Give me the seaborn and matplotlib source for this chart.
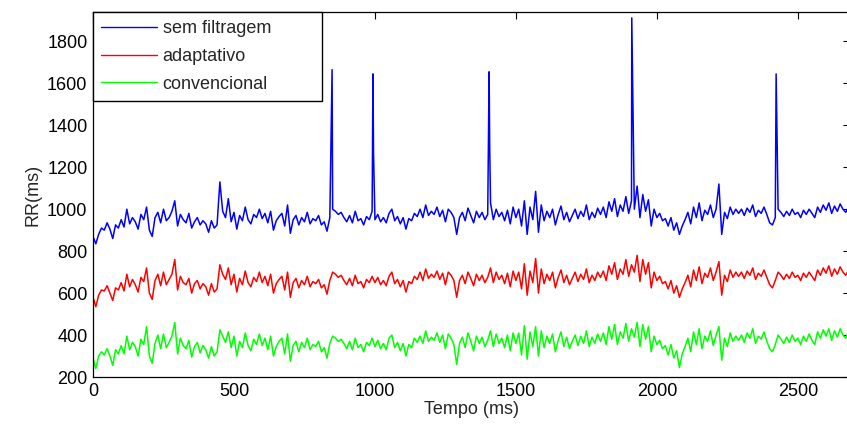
import numpy as np
import pandas as pd
import matplotlib
matplotlib.use("Agg")
import matplotlib.pyplot as plt
import seaborn as sns

# RR series, one value every 10 ms (0 .. 2680)
sem_filtragem = [
    870, 835, 880, 910, 900, 935, 905, 860, 925, 910,
    950, 915, 1000, 930, 960, 940, 905, 975, 950, 1010,
    900, 870, 960, 985, 935, 1000, 945, 960, 990, 1040,
    920, 975, 950, 935, 980, 910, 940, 960, 925, 945,
    930, 890, 945, 910, 925, 1130, 990, 960, 1050, 940,
    985, 905, 970, 945, 1010, 950, 930, 975, 960, 1000,
    955, 980, 935, 990, 900, 945, 965, 980, 920, 1020,
    885, 950, 970, 925, 960, 940, 985, 930, 955, 945,
    970, 925, 940, 895, 960, 1000, 990, 975, 985, 960,
    940, 970, 935, 990, 945, 955, 925, 965, 950, 990,
    950, 975, 940, 960, 935, 980, 1000, 945, 965, 930,
    960, 905, 955, 945, 980, 965, 1000, 960, 1020, 970,
    990, 975, 1010, 965, 995, 940, 1000, 985, 960, 880,
    960, 985, 945, 1005, 970, 935, 990, 960, 985, 950,
    975, 1030, 950, 1000, 965, 985, 945, 995, 930, 1010,
    960, 1000, 920, 1040, 880, 1010, 950, 1085, 890, 1020,
    945, 990, 960, 1000, 925, 975, 1015, 950, 985, 940,
    970, 1000, 955, 990, 965, 1020, 950, 985, 960, 1005,
    975, 1010, 960, 1035, 990, 1050, 965, 1020, 990, 1060,
    980, 1040, 1000, 1110, 960, 1070, 990, 1045, 920, 1000,
    960, 980, 945, 955, 920, 960, 900, 935, 880, 920,
    950, 985, 930, 1010, 960, 1030, 945, 995, 975, 1020,
    960, 1000, 1120, 880, 985, 955, 1010, 975, 1000, 980,
    1000, 970, 1005, 985, 1020, 965, 995, 980, 1010, 975,
    935, 925, 960, 1000, 985, 965, 990, 970, 1000, 975,
    985, 960, 995, 975, 1000, 980, 960, 1010, 985, 1020,
    995, 1030, 980, 1015, 990, 1025, 1000, 985, 1010,
]

# batimentos perdidos (picos) na serie sem filtragem
pico_tempo = [848, 993, 995, 1405, 1407, 1911, 2423]
pico_rr = [1665, 1645, 1270, 1655, 1300, 1912, 1645]

adaptativo = [
    580, 535, 590, 615, 610, 635, 600, 565, 625, 615,
    650, 610, 690, 630, 665, 640, 605, 675, 655, 720,
    600, 570, 660, 690, 635, 700, 640, 665, 690, 760,
    615, 680, 650, 640, 670, 600, 645, 660, 620, 645,
    630, 590, 645, 605, 620, 735, 690, 665, 720, 640,
    690, 605, 670, 640, 705, 650, 630, 675, 655, 700,
    650, 680, 635, 690, 600, 645, 665, 680, 615, 700,
    580, 650, 670, 625, 660, 640, 680, 630, 655, 645,
    665, 625, 640, 595, 660, 700, 690, 675, 685, 660,
    640, 670, 635, 685, 645, 655, 625, 665, 650, 680,
    650, 675, 640, 660, 635, 680, 700, 645, 665, 630,
    660, 605, 655, 645, 680, 665, 700, 660, 715, 670,
    690, 675, 705, 665, 695, 640, 700, 685, 660, 580,
    660, 685, 645, 700, 670, 635, 690, 660, 685, 650,
    675, 720, 650, 700, 665, 685, 645, 695, 630, 705,
    660, 700, 620, 740, 590, 705, 650, 765, 600, 715,
    645, 690, 660, 700, 625, 675, 710, 650, 685, 640,
    670, 700, 655, 690, 665, 715, 650, 685, 660, 700,
    675, 705, 660, 730, 690, 745, 665, 715, 690, 760,
    680, 735, 700, 780, 655, 760, 690, 745, 625, 700,
    660, 680, 645, 655, 620, 660, 600, 635, 580, 620,
    650, 685, 630, 710, 660, 725, 645, 695, 675, 720,
    660, 700, 750, 590, 685, 655, 710, 675, 700, 680,
    700, 670, 705, 685, 720, 665, 695, 680, 710, 675,
    640, 625, 660, 700, 685, 665, 690, 670, 700, 675,
    685, 660, 695, 675, 700, 680, 660, 710, 685, 720,
    695, 730, 680, 715, 690, 725, 700, 685, 710,
]

convencional = [
    290, 240, 300, 320, 305, 335, 300, 255, 330, 310,
    350, 310, 395, 330, 365, 345, 300, 380, 355, 440,
    300, 265, 360, 400, 335, 405, 340, 365, 395, 460,
    310, 385, 350, 335, 375, 295, 345, 365, 315, 350,
    330, 290, 345, 300, 320, 425, 395, 365, 415, 340,
    395, 300, 370, 340, 410, 350, 325, 380, 355, 405,
    350, 385, 330, 395, 300, 345, 370, 385, 310, 405,
    275, 350, 370, 320, 365, 340, 385, 330, 355, 345,
    370, 320, 340, 290, 360, 395, 385, 370, 380, 360,
    335, 370, 330, 385, 340, 355, 320, 365, 350, 385,
    345, 375, 335, 360, 330, 385, 400, 340, 365, 325,
    360, 300, 355, 340, 385, 365, 395, 360, 420, 370,
    390, 375, 410, 365, 400, 335, 405, 385, 355, 260,
    360, 390, 340, 410, 370, 325, 395, 360, 390, 345,
    375, 420, 345, 405, 360, 385, 340, 400, 325, 410,
    360, 410, 305, 445, 285, 415, 345, 440, 300, 420,
    340, 395, 360, 405, 320, 375, 415, 345, 390, 335,
    370, 400, 350, 395, 360, 420, 345, 390, 360, 405,
    370, 410, 355, 440, 380, 450, 355, 415, 385, 455,
    370, 430, 390, 460, 345, 450, 380, 440, 320, 395,
    355, 375, 335, 350, 305, 355, 290, 325, 245, 310,
    345, 385, 320, 415, 355, 430, 335, 395, 370, 420,
    350, 400, 440, 280, 385, 345, 410, 370, 395, 375,
    400, 365, 410, 385, 430, 360, 395, 380, 415, 370,
    335, 320, 355, 400, 380, 360, 390, 365, 400, 370,
    385, 355, 395, 370, 405, 375, 355, 415, 385, 425,
    395, 430, 375, 420, 390, 430, 400, 385, 415,
]

series = ["sem filtragem", "adaptativo", "convencional"]
cores = {"sem filtragem": "#0000ff", "adaptativo": "#ff0000", "convencional": "#00ff00"}

tempo = np.arange(len(sem_filtragem)) * 10

# junta os picos na serie sem filtragem
t_sem = np.concatenate([tempo, pico_tempo])
rr_sem = np.concatenate([sem_filtragem, pico_rr])
ordem = np.argsort(t_sem, kind="stable")

df = pd.concat([
    pd.DataFrame({"Tempo": t_sem[ordem], "RR": rr_sem[ordem], "serie": series[0]}),
    pd.DataFrame({"Tempo": tempo, "RR": adaptativo, "serie": series[1]}),
    pd.DataFrame({"Tempo": tempo, "RR": convencional, "serie": series[2]}),
], ignore_index=True)

sns.set_style("white")
plt.rcParams["font.family"] = ["Liberation Sans", "DejaVu Sans"]

fig = plt.figure(figsize=(8.47, 4.30), dpi=100)
ax = fig.add_axes([93 / 847, 1 - 377 / 430, 757 / 847, 365 / 430])

sns.lineplot(data=df, x="Tempo", y="RR", hue="serie", hue_order=series,
             palette=cores, estimator=None, sort=True, linewidth=1.1, ax=ax)

ax.set_xlim(0, 2685)
ax.set_ylim(200, 1940)
ax.set_xticks([0, 500, 1000, 1500, 2000, 2500])
ax.set_yticks(range(200, 1801, 200))
ax.tick_params(direction="in", top=True, right=True, length=5, width=0.8,
               labelsize=13, colors="black", pad=4)
for s in ax.spines.values():
    s.set_color("black")
    s.set_linewidth(0.9)

ax.set_xlabel("Tempo (ms)", fontsize=13, labelpad=1)
ax.set_ylabel("RR(ms)", fontsize=13, labelpad=4)

leg = ax.legend(loc="upper left", bbox_to_anchor=(0, 0, 229 / 757, 1), mode="expand",
                borderaxespad=0, fontsize=13, frameon=True, fancybox=False,
                edgecolor="black", framealpha=1, handlelength=3.1,
                handletextpad=0.3, labelspacing=0.6, borderpad=0.45)
for h in leg.get_lines():
    h.set_linewidth(1.0)

fig.savefig("out.png", dpi=100)
